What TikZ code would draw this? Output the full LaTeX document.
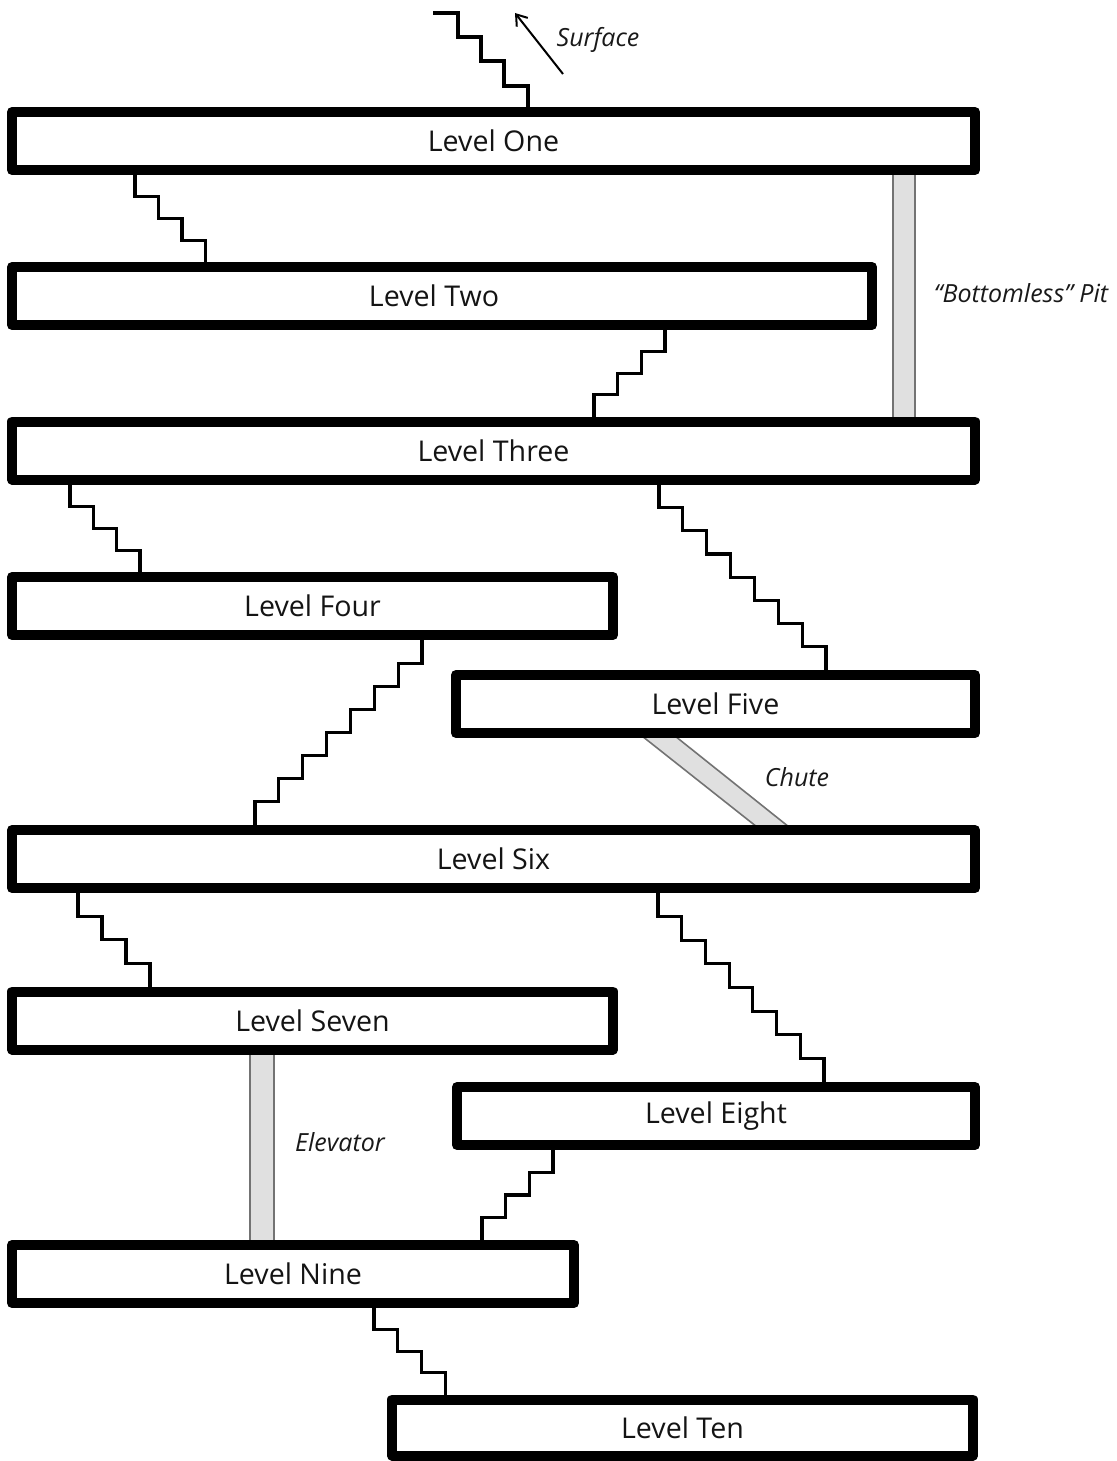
\documentclass[tikz,border=0pt]{standalone}
\usepackage{fontspec}
\setmainfont{Open Sans}
\usetikzlibrary{arrows.meta,calc,backgrounds}
\tikzset{
  level/.style={draw, line width=5pt, line join=round, fill=white, inner sep=0pt,
    minimum height=29pt, font=\fontsize{14.3}{17}\selectfont, text=black!92},
  stairline/.style={line width=1.6pt, line join=miter},
  shaft/.style={draw=black!55, fill=black!12, line width=0.8pt},
  note/.style={font=\itshape\fontsize{12.5}{15}\selectfont, text=black!90, inner sep=0pt},
}
% #1 upper node, #2 x (px), #3 tread (px, signed), #4 number of treads, #5 lower node
\newcommand\stairs[5]{%
  \draw[stairline] let \p1=(#1.south), \p2=(#5.north), \n1={(\y2-\y1)/(#4+1)} in
    ({#2*0.5pt},\y1) \foreach \i in {1,...,#4}{ -- ++(0pt,\n1) -- ++({#3*0.5pt},0pt) } -- ++(0pt,\n1);
}
\begin{document}
\begin{tikzpicture}[x=0.5pt,y=-0.5pt]
\useasboundingbox (0,0) rectangle (1117,1461);

% levels
\node[level, minimum width=481.5pt] (L1)  at (493.5,141)    {Level One};
\node[level, minimum width=430pt]   (L2)  at (442,296)      {Level Two\hspace*{8pt}};
\node[level, minimum width=481.5pt] (L3)  at (493.5,450.5)  {Level Three};
\node[level, minimum width=300.5pt] (L4)  at (312.5,606)    {Level Four};
\node[level, minimum width=259.5pt] (L5)  at (715.5,704)    {Level Five};
\node[level, minimum width=481.5pt] (L6)  at (493.5,859)    {Level Six};
\node[level, minimum width=300.5pt] (L7)  at (312.5,1020.5) {Level Seven};
\node[level, minimum width=259pt]   (L8)  at (716,1116)     {Level Eight};
\node[level, minimum width=281pt]   (L9)  at (293,1274)     {Level Nine};
\node[level, minimum width=290.5pt, minimum height=28pt] (L10) at (682.5,1427.5) {Level Ten};

% labels
\node[note] (tSurf)  at (598,40)    {Surface};
\node[note] (tPit)   at (1021,293)  {“Bottomless” Pit};
\node[note] (tChute) at (797,777)   {Chute};
\node[note] (tElev)  at (340,1142)  {Elevator};

% surface arrow
\coordinate (arrS) at (563,74);
\coordinate (arrE) at (515,13);
\draw[-{Straight Barb[length=5pt,width=7pt]}, line width=1pt] (arrS) -- (arrE);

\begin{scope}[on background layer]
  % pit, elevator, chute
  \path[shaft] ([xshift=443pt,yshift=2pt]L1.south west) rectangle ([xshift=454pt,yshift=-2pt]L3.north west);
  \path[shaft] ([xshift=121.5pt,yshift=2pt]L7.south west) rectangle ([xshift=133.5pt,yshift=-2pt]L9.north west);
  \path[shaft] ([xshift=95.5pt,yshift=1pt]L5.south west) -- ([xshift=112pt,yshift=1pt]L5.south west)
     -- ([xshift=391pt,yshift=-1pt]L6.north west) -- ([xshift=375pt,yshift=-1pt]L6.north west) -- cycle;

  % stairs to the surface
  \coordinate (surf) at (433,13);
  \draw[stairline] (surf) -- ++(25,0) -- ++(0,24) -- ++(23,0) -- ++(0,24) -- ++(23,0)
     -- ++(0,25) -- ++(24,0) coordinate (sTop) -- (sTop |- L1.north);

  % stairs between levels
  \stairs{L1}{135}{23.5}{3}{L2}
  \stairs{L2}{665}{-23.7}{3}{L3}
  \stairs{L3}{70}{23.3}{3}{L4}
  \stairs{L3}{659}{23.86}{7}{L5}
  \stairs{L4}{422}{-23.86}{7}{L6}
  \stairs{L6}{78}{24}{3}{L7}
  \stairs{L6}{658}{23.7}{7}{L8}
  \stairs{L8}{553}{-23.7}{3}{L9}
  \stairs{L9}{374}{23.7}{3}{L10}
\end{scope}
\end{tikzpicture}
\end{document}
